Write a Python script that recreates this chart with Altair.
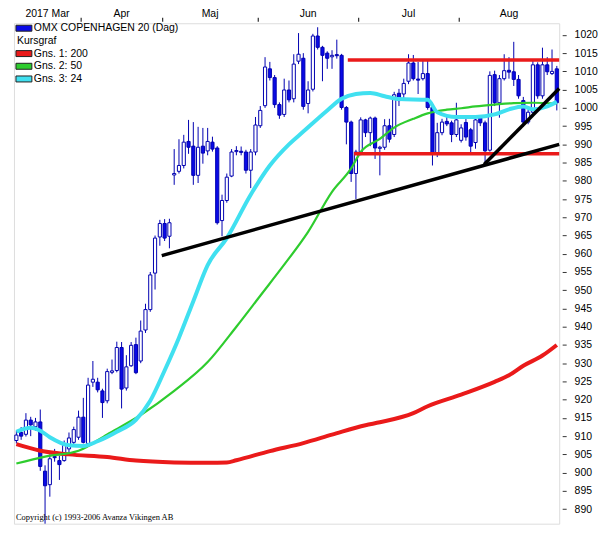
import altair as alt
import pandas as pd

# ---- OHLC candles (one per trading day, Mar 14 .. end Aug 2017) ----
opens = [908.8, 911.0, 910.5, 914.4, 912.6, 913.9, 900.4, 896.7, 904.4, 903.3,
         903.3, 906.5, 908.3, 909.7, 915.2, 908.0, 924.8, 924.8, 922.4, 919.7,
         927.5, 928.0, 934.3, 923.2, 929.3, 935.1, 930.6, 939.1, 944.7, 954.7,
         964.6, 968.3, 964.8, 981.6, 982.6, 984.2, 990.8, 989.5, 981.5, 989.5,
         988.2, 990.6, 989.0, 969.1, 974.6, 981.3, 988.0, 988.1, 987.9, 982.9,
         987.9, 995.1, 1000.6, 1010.7, 1008.3, 1000.9, 998.2, 1004.9, 1002.5, 1012.8,
         1013.6, 1001.2, 1005.1, 1019.7, 1016.6, 1015.0, 1014.0, 1014.6, 1014.4, 1000.1,
         996.1, 982.0, 987.9, 996.7, 993.2, 997.2, 988.9, 989.2, 995.1, 992.7,
         1004.0, 1003.8, 1007.3, 1012.3, 1007.9, 1008.0, 1009.4, 1000.1, 987.4, 993.2,
         996.3, 995.9, 992.7, 991.1, 996.0, 994.0, 990.5, 997.5, 995.9, 988.4,
         1009.1, 1001.4, 1008.0, 1010.3, 1009.9, 1007.8, 1002.0, 996.1, 998.8, 1011.8,
         1003.3, 1011.8, 1009.4, 1010.7]
highs = [911.5, 912.5, 916.3, 915.3, 915.0, 917.3, 902.0, 905.0, 906.5, 904.6,
         908.8, 911.0, 912.6, 917.0, 920.5, 926.0, 930.6, 926.0, 923.0, 928.5,
         931.0, 935.9, 935.8, 932.2, 935.8, 937.0, 941.7, 946.3, 955.0, 965.0,
         969.3, 969.5, 969.6, 988.7, 991.4, 992.6, 996.7, 996.1, 994.8, 994.5,
         994.5, 992.1, 989.5, 976.2, 982.0, 988.7, 989.5, 989.4, 988.5, 988.7,
         997.5, 1000.5, 1013.9, 1012.6, 1009.0, 1001.5, 1008.0, 1007.5, 1014.7, 1020.5,
         1015.0, 1007.3, 1020.3, 1022.1, 1017.0, 1015.5, 1015.8, 1018.7, 1014.8, 1000.5,
         996.5, 988.5, 997.4, 997.0, 997.6, 997.6, 989.6, 996.9, 997.0, 1004.4,
         1005.2, 1008.0, 1014.7, 1014.5, 1012.6, 1013.1, 1013.0, 1000.5, 995.9, 997.0,
         997.5, 996.5, 1001.4, 995.5, 997.0, 994.5, 997.2, 998.0, 996.5, 1010.0,
         1010.2, 1009.0, 1014.7, 1013.9, 1018.1, 1009.0, 1003.0, 999.5, 1013.0, 1012.5,
         1016.5, 1013.9, 1016.0, 1011.5]
lows = [908.0, 909.0, 909.9, 910.0, 911.5, 900.5, 886.0, 893.4, 903.0, 898.0,
        903.0, 905.0, 907.5, 909.0, 908.0, 907.5, 923.5, 922.0, 915.0, 919.0,
        927.0, 927.5, 917.6, 922.5, 929.0, 927.0, 930.0, 938.3, 944.1, 950.2,
        962.2, 963.5, 961.5, 978.9, 982.0, 983.4, 987.4, 978.9, 979.4, 984.7,
        987.0, 988.0, 968.0, 964.8, 974.0, 981.0, 987.0, 987.0, 982.0, 978.0,
        987.0, 994.5, 1000.0, 1007.5, 1000.0, 997.0, 997.5, 1001.5, 1001.5, 1012.0,
        999.5, 998.5, 1004.5, 1016.0, 1007.3, 1010.7, 1010.7, 1013.5, 999.5, 990.0,
        979.7, 975.0, 987.0, 992.0, 989.5, 986.0, 981.5, 988.5, 990.5, 992.0,
        1000.5, 1002.5, 1006.5, 1007.5, 1003.8, 1007.5, 999.5, 984.2, 986.5, 992.5,
        995.0, 990.6, 992.0, 990.5, 991.0, 987.5, 988.8, 995.0, 984.5, 988.0,
        1000.5, 997.3, 1007.5, 1008.0, 1006.0, 1002.5, 994.8, 995.5, 998.0, 1002.5,
        1002.5, 1009.0, 1009.0, 999.3]
closes = [910.3, 910.0, 914.4, 913.1, 913.9, 901.7, 896.4, 903.8, 904.1, 902.2,
          907.5, 909.5, 911.8, 915.2, 908.3, 924.0, 925.6, 922.7, 919.2, 927.7,
          927.9, 934.3, 922.9, 929.0, 934.9, 927.4, 938.8, 944.7, 954.2, 964.3,
          968.3, 964.3, 968.5, 982.0, 984.2, 990.6, 989.2, 981.5, 989.2, 987.6,
          990.8, 988.7, 968.5, 974.6, 981.0, 987.9, 988.3, 987.8, 982.9, 987.9,
          995.3, 999.3, 1011.2, 1008.3, 1000.9, 998.0, 1004.9, 1002.2, 1012.0, 1014.7,
          1000.4, 1004.9, 1019.7, 1016.6, 1014.4, 1013.6, 1014.4, 1014.3, 1000.1, 996.1,
          982.0, 987.9, 996.7, 993.2, 997.2, 989.0, 989.2, 995.1, 991.4, 1003.6,
          1002.0, 1006.7, 1012.3, 1008.0, 1007.6, 1009.4, 1000.1, 987.4, 993.2, 996.1,
          995.6, 992.7, 996.7, 994.5, 992.0, 989.5, 996.7, 995.9, 988.2, 1008.9,
          1001.4, 1008.0, 1010.2, 1009.8, 1007.8, 1003.3, 996.1, 998.8, 1011.8, 1003.3,
          1011.8, 1009.9, 1010.0, 1001.4]

# ---- months (index of first trading day of each month) ----
month_names = ["2017 Mar", "Apr", "Maj", "Jun", "Jul", "Aug"]
month_starts = [0, 14, 31, 51, 72, 93]

# ---- moving averages (day index, value) ----
ma200_idx = [0, 5, 11, 19, 25, 33, 40, 44, 46, 53, 60, 66, 73, 76, 83, 86, 93, 100, 103,
             106, 110, 113]
ma200_val = [907.8, 906.0, 905.0, 904.3, 903.3, 902.8, 902.7, 902.8, 903.4, 905.9, 908.1,
             910.4, 913.0, 913.8, 916.3, 918.2, 921.4, 924.9, 926.7, 929.3, 932.1, 935.0]
ma50_idx = [0, 6, 13, 19, 26, 33, 40, 46, 51, 56, 61, 66, 70, 72, 76, 79, 83, 86, 90, 93,
            96, 100, 104, 108, 113]
ma50_val = [902.5, 904.4, 906.0, 910.5, 915.8, 922.4, 930.3, 940.0, 948.5, 957.0, 966.0,
            977.0, 983.4, 987.9, 991.5, 994.6, 997.0, 998.5, 999.5, 999.9, 1000.4, 1000.9,
            1001.3, 1001.4, 1001.2]
ma24_idx = [0, 3, 5, 7, 11, 14, 17, 21, 25, 28, 31, 34, 37, 40, 44, 49, 53, 57, 60, 65, 68,
            71, 74, 77, 80, 86, 88, 92, 96, 100, 103, 106, 108, 111, 113]
ma24_val = [911.2, 912.3, 911.5, 909.7, 907.5, 907.3, 908.6, 911.2, 914.5, 919.7, 928.0,
            937.0, 947.0, 956.9, 964.3, 976.2, 984.2, 990.0, 993.5, 999.3, 1002.5, 1003.8,
            1004.1, 1003.2, 1002.4, 1002.2, 998.8, 997.5, 997.5, 998.2, 999.6, 1000.4,
            999.6, 1000.4, 1001.7]

# ---- drawn trend lines ----
support_idx = [30.4, 113.5]
support_val = [959.5, 990.0]
trend_idx = [97.8, 113.5]
trend_val = [984.5, 1005.3]
band_idx_top = [69.3, 113.5]
band_val_top = [1013.1, 1013.1]
band_idx_bot = [70.6, 113.5]
band_val_bot = [987.4, 987.4]

legend_labels = ["OMX COPENHAGEN 20 (Dag)", "Kursgraf", "Gns. 1: 200", "Gns. 2: 50", "Gns. 3: 24"]
legend_colors = ["#0a0ae6", "", "#ea1a1a", "#2ecc2e", "#40e0f0"]
y_ticks = list(range(890, 1021, 5))

# ---------------------------------------------------------------
FONT = "Liberation Sans"
N = len(opens)
W, H = 548, 503
XS = alt.Scale(domain=[-0.5, N - 0.5], nice=False, zero=False)
YS = alt.Scale(domain=[886, 1023.2], nice=False, zero=False)
bounds = [s - 0.5 for s in month_starts[1:]]
XAX = alt.Axis(orient="top", values=bounds, labels=False, ticks=True, tickSize=4, offset=2,
               domain=False, grid=False, title=None, tickColor="#000")
YAX = alt.Axis(orient="right", values=y_ticks, domain=False, grid=False, title=None,
               tickSize=4, offset=3, labelPadding=8, labelFont=FONT, labelFontSize=10.5,
               labelColor="#000", tickColor="#333", format="d", labelOverlap=False)


def X(f):
    return alt.X(f, type="quantitative", scale=XS, axis=XAX)


def Y(f):
    return alt.Y(f, type="quantitative", scale=YS, axis=YAX)


candles = pd.DataFrame({"i": list(range(N)), "o": opens, "h": highs, "l": lows, "c": closes})
candles["dir"] = ["up" if c >= o else "down" for o, c in zip(opens, closes)]

STROKE = "#0000b0"
wicks = alt.Chart(candles).mark_rule(color=STROKE, strokeWidth=1).encode(
    x=X("i"), y=Y("l"), y2="h")
bodies = alt.Chart(candles).transform_calculate(
    xl="datum.i - 0.33", xr="datum.i + 0.33"
).mark_rect(stroke=STROKE, strokeWidth=1).encode(
    x=X("xl"), x2="xr", y=Y("o"), y2="c",
    fill=alt.Color("dir:N", scale=alt.Scale(domain=["up", "down"], range=["white", "#0a0ae6"]),
                   legend=None))


def line(idx, vals, color, width, interp="monotone"):
    df = pd.DataFrame({"i": idx, "v": vals})
    return alt.Chart(df).mark_line(color=color, strokeWidth=width, interpolate=interp).encode(
        x=X("i"), y=Y("v"))


ma200 = line(ma200_idx, ma200_val, "#ea1a1a", 4)
ma50 = line(ma50_idx, ma50_val, "#2ecc2e", 2.2)
ma24 = line(ma24_idx, ma24_val, "#40e0f0", 4)
band_top = line(band_idx_top, band_val_top, "#ea1a1a", 3.5, "linear")
band_bot = line(band_idx_bot, band_val_bot, "#ea1a1a", 3.5, "linear")
sup = line(support_idx, support_val, "#000000", 3.5, "linear")
tr = line(trend_idx, trend_val, "#000000", 3.5, "linear")

# month labels centred in each month
edges = [s - 0.5 for s in month_starts] + [N - 0.5]
mdf = pd.DataFrame({"name": month_names,
                    "pos": [(edges[k] + edges[k + 1]) / 2 for k in range(len(month_names))]})
months = alt.Chart(mdf).mark_text(font=FONT, fontSize=10.5, color="#000", baseline="middle",
                                  align="center").encode(
    x=X("pos"), y=alt.value(-9), text="name:N")

dummy = pd.DataFrame({"a": [0]})
legend_layers = []
for k, (lab, col) in enumerate(zip(legend_labels, legend_colors)):
    yc = 5 + 12.75 * k
    if col:
        legend_layers.append(alt.Chart(dummy).mark_rect(fill=col, stroke="#202020",
                                                        strokeWidth=1).encode(
            x=alt.value(2), x2=alt.value(18), y=alt.value(yc - 3), y2=alt.value(yc + 3)))
        tx = 20
    else:
        tx = 3
    legend_layers.append(alt.Chart(dummy).mark_text(
        text=lab, font=FONT, fontSize=10.5, color="#000", align="left", baseline="middle"
    ).encode(x=alt.value(tx), y=alt.value(yc)))

copyright_txt = alt.Chart(dummy).mark_text(
    text="Copyright (c) 1993-2006 Avanza Vikingen AB", font="Liberation Serif",
    fontSize=8.5, color="#000", align="left", baseline="bottom"
).encode(x=alt.value(2), y=alt.value(H - 2))

chart = alt.layer(
    wicks, bodies, ma200, ma50, ma24, band_top, band_bot, sup, tr, months,
    *legend_layers, copyright_txt
).properties(
    width=W, height=H, padding=0
).configure_view(
    stroke="#a0a0a0", strokeWidth=1
).configure(background="white", font=FONT)

chart.save("out.html", embed_options={"renderer": "svg", "actions": False})
